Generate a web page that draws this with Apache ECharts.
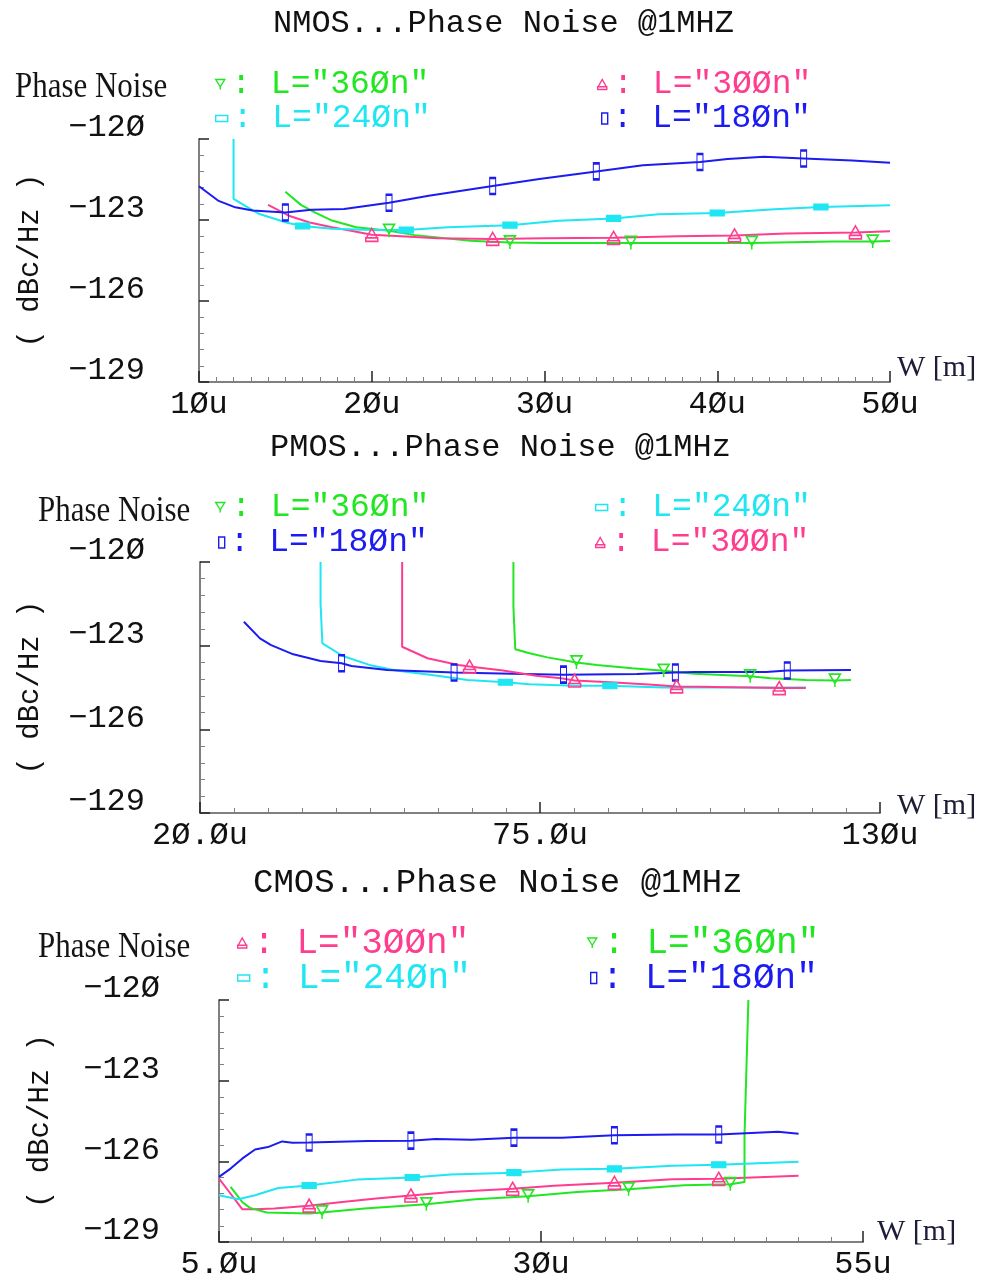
<!DOCTYPE html>
<html>
<head>
<meta charset="utf-8">
<title>Phase Noise @1MHz vs W</title>
<script src="https://cdn.jsdelivr.net/npm/echarts@6/dist/echarts.min.js"></script>
<style>
html, body { margin: 0; padding: 0; background: #fff; }
#chart { width: 981px; height: 1281px; }
</style>
</head>
<body>
<div id="chart"></div>
<script>
// Phase noise at 1 MHz offset (dBc/Hz) against device width W (µm).
// Each point is [W, PN] or [W, PN, 1]; a trailing 1 puts a marker on that point.

// ---- NMOS ----
const nmosL360 = [[15.0,-121.95],[15.9,-122.44],[16.7,-122.72],[17.7,-123.02],[19.1,-123.27],[21.0,-123.4,1],[22.5,-123.56],[25.7,-123.77],[28.0,-123.83,1],[30.0,-123.85],[35.0,-123.85,1],[42.0,-123.85,1],[46.7,-123.8],[49.0,-123.8,1],[50.0,-123.78]];
const nmosL300 = [[14.0,-122.44],[15.2,-122.84],[16.4,-123.09],[17.7,-123.27],[18.8,-123.4],[20.0,-123.55,1],[21.7,-123.6],[23.8,-123.68],[27.0,-123.7,1],[30.0,-123.68],[34.0,-123.66,1],[37.7,-123.6],[41.0,-123.57,1],[44.0,-123.5],[48.0,-123.46,1],[50.0,-123.42]];
const nmosL240 = [[12.0,-120.0],[12.0,-122.22],[12.7,-122.49],[13.5,-122.78],[15.1,-123.1],[16.0,-123.22,1],[17.7,-123.32],[20.1,-123.37],[22.0,-123.37,1],[24.4,-123.27],[28.0,-123.19,1],[30.8,-123.03],[34.0,-122.94,1],[36.6,-122.79],[40.0,-122.74,1],[43.3,-122.6],[46.0,-122.52,1],[50.0,-122.45]];
const nmosL180 = [[10.0,-121.75],[11.1,-122.28],[12.1,-122.53],[13.1,-122.65],[15.0,-122.72,1],[16.5,-122.62],[18.4,-122.59],[21.0,-122.36,1],[23.3,-122.1],[27.0,-121.74,1],[29.7,-121.48],[33.0,-121.2,1],[35.7,-120.97],[39.0,-120.85,1],[40.6,-120.74],[42.7,-120.66],[45.0,-120.72,1],[47.8,-120.8],[50.0,-120.88]];

// ---- PMOS ----
const pmosL360 = [[70.7,-120.0],[70.7,-121.61],[71.0,-123.13],[73.3,-123.27],[76.2,-123.42],[80.9,-123.6,1],[84.2,-123.69],[89.9,-123.81],[95.0,-123.9,1],[100.0,-124.01],[109.0,-124.1,1],[112.3,-124.17],[118.0,-124.23],[122.7,-124.25,1],[125.3,-124.23]];
const pmosL300 = [[52.7,-120.0],[52.7,-123.04],[56.8,-123.45],[61.8,-123.69],[63.6,-123.75,1],[69.0,-123.89],[74.4,-124.08],[78.4,-124.17],[80.6,-124.25,1],[87.1,-124.32],[93.2,-124.4],[97.1,-124.46,1],[100.7,-124.47],[113.7,-124.52,1],[118.0,-124.52]];
const pmosL240 = [[39.5,-120.0],[39.5,-121.49],[39.8,-122.92],[43.1,-123.37],[47.4,-123.69],[51.7,-123.89],[57.5,-124.05],[63.3,-124.23],[69.4,-124.31,1],[73.3,-124.38],[80.6,-124.44],[86.3,-124.44,1],[95.0,-124.5],[118.0,-124.5]];
const pmosL180 = [[27.1,-122.14],[29.7,-122.74],[31.5,-122.98],[35.1,-123.31],[39.5,-123.55],[42.9,-123.63,1],[44.5,-123.73],[50.3,-123.87],[61.1,-123.96,1],[70.5,-124.01],[78.8,-124.04,1],[90.7,-124.02],[96.9,-123.96,1],[100.0,-123.94],[111.6,-123.94],[115.0,-123.89,1],[125.3,-123.87]];

// ---- CMOS ----
const cmosL300 = [[5.0,-126.64],[5.8,-127.14],[6.8,-127.78],[7.8,-127.78],[9.3,-127.75],[12.0,-127.65,1],[14.2,-127.53],[17.2,-127.38],[19.9,-127.27,1],[23.0,-127.14],[27.8,-127.02,1],[31.0,-126.91],[35.7,-126.8,1],[40.2,-126.67],[43.8,-126.65,1],[50.0,-126.54]];
const cmosL360 = [[5.9,-126.95],[6.8,-127.51],[7.4,-127.73],[8.7,-127.9],[12.0,-127.94],[13.0,-127.9,1],[16.3,-127.75],[21.1,-127.6,1],[24.9,-127.41],[29.0,-127.3,1],[32.8,-127.14],[36.8,-127.04,1],[41.1,-126.89],[44.7,-126.85,1],[45.8,-126.77],[45.8,-125.04],[46.0,-121.7],[46.1,-120.0]];
const cmosL240 = [[5.0,-127.26],[6.5,-127.41],[7.8,-127.26],[9.6,-126.99],[12.0,-126.9,1],[15.7,-126.68],[20.0,-126.6,1],[23.0,-126.49],[27.9,-126.42,1],[31.6,-126.3],[35.7,-126.28,1],[40.2,-126.16],[43.8,-126.13,1],[50.0,-126.02]];
const cmosL180 = [[5.0,-126.58],[5.9,-126.27],[6.8,-125.9],[7.8,-125.56],[8.8,-125.47],[9.9,-125.26],[10.7,-125.31],[12.0,-125.3,1],[16.6,-125.24],[19.9,-125.23,1],[21.8,-125.17],[24.6,-125.2],[27.9,-125.12,1],[31.6,-125.12],[35.7,-125.03,1],[40.5,-125.0],[43.8,-125.0,1],[48.4,-124.9],[50.0,-124.97]];

// ---- axis ticks ----
const yTickValues = [-129, -126, -123, -120];
const yTickLabels = ['−129', '−126', '−123', '−12Ø'];
const nmosTickValues = [10, 20, 30, 40, 50];
const nmosTickLabels = ['1Øu', '2Øu', '3Øu', '4Øu', '5Øu'];
const pmosTickValues = [20, 75, 130];
const pmosTickLabels = ['2Ø.Øu', '75.Øu', '13Øu'];
const cmosTickValues = [5, 30, 55];
const cmosTickLabels = ['5.Øu', '3Øu', '55u'];

// ---- legend texts ----
const lengthLabels = { l360: 'L="36Øn"', l300: 'L="3ØØn"', l240: 'L="24Øn"', l180: 'L="18Øn"' };

const MONO = 'Liberation Mono';
const SERIF = 'Liberation Serif';
const COLORS = { l360: '#22e622', l300: '#ff3d8f', l240: '#1ee6f2', l180: '#1c1cf0' };
const CLEAR = 'rgba(0,0,0,0)';

// marker shapes per gate length
const MARKS = {
  l360: { symbol: 'path://M0,0L10,0L5,8ZM5,8L5,11', size: [11, 13], fill: CLEAR, legendFill: CLEAR },
  l300: { symbol: 'path://M5,0L9.5,8L0.5,8ZM0,8L10,8L10,11L0,11Z', size: [12, 13], fill: CLEAR, legendFill: CLEAR },
  l240: { symbol: 'rect', size: [13, 6], fill: COLORS.l240, legendFill: CLEAR },
  l180: { symbol: 'rect', size: [6, 16], fill: CLEAR, legendFill: CLEAR }
};
const LEGEND_ICON = {
  l360: { w: 12, h: 10 },
  l300: { w: 12, h: 10 },
  l240: { w: 12, h: 6 },
  l180: { w: 6, h: 11 }
};

// panel layout: grid box and per-panel text placement
const panels = [
  {
    key: 'NMOS', title: 'NMOS...Phase Noise @1MHZ', titleLeft: 268, titleTop: 3, titleSize: 32,
    grid: { left: 199, top: 139, width: 691, height: 243 },
    x: { min: 10, max: 50, interval: 10, minor: 10, values: nmosTickValues, labels: nmosTickLabels },
    yLabelMargin: 54, yNameGap: 154, phaseNoise: { x: 15, y: 88 }, wName: { x: 897, y: 368 },
    series: { l360: nmosL360, l300: nmosL300, l240: nmosL240, l180: nmosL180 },
    legendSize: 33,
    legend: { l360: [210, 80], l300: [592, 80], l240: [210, 114], l180: [596, 114] }
  },
  {
    key: 'PMOS', title: 'PMOS...Phase Noise @1MHz', titleLeft: 265, titleTop: 427, titleSize: 32,
    grid: { left: 200, top: 562, width: 680, height: 251 },
    x: { min: 20, max: 130, interval: 55, minor: 10, values: pmosTickValues, labels: pmosTickLabels },
    yLabelMargin: 55, yNameGap: 155, phaseNoise: { x: 38, y: 512 }, wName: { x: 897, y: 806 },
    series: { l360: pmosL360, l240: pmosL240, l180: pmosL180, l300: pmosL300 },
    legendSize: 33,
    legend: { l360: [210, 503], l240: [590, 503], l180: [213, 538], l300: [590, 538] }
  },
  {
    key: 'CMOS', title: 'CMOS...Phase Noise @1MHz', titleLeft: 248, titleTop: 861, titleSize: 34,
    grid: { left: 219, top: 1000, width: 644, height: 242 },
    x: { min: 5, max: 55, interval: 25, minor: 10, values: cmosTickValues, labels: cmosTickLabels },
    yLabelMargin: 59, yNameGap: 164, phaseNoise: { x: 38, y: 948 }, wName: { x: 877, y: 1232 },
    series: { l300: cmosL300, l360: cmosL360, l240: cmosL240, l180: cmosL180 },
    legendSize: 36,
    legend: { l300: [232, 938], l360: [582, 938], l240: [232, 973], l180: [585, 973] }
  }
];

function lookup(values, labels, v) {
  for (let i = 0; i < values.length; i++) {
    if (Math.abs(values[i] - v) < 1e-6) return labels[i];
  }
  return '';
}

const option = {
  backgroundColor: '#ffffff',
  animation: false,
  title: [], grid: [], xAxis: [], yAxis: [], series: [], legend: [], graphic: []
};

panels.forEach((p, i) => {
  option.title.push({
    text: p.title, left: p.titleLeft, top: p.titleTop,
    textStyle: { fontFamily: MONO, fontSize: p.titleSize, fontWeight: 'normal', color: '#111' }
  });
  option.grid.push(Object.assign({ containLabel: false, outerBoundsMode: 'none' }, p.grid));

  option.xAxis.push({
    gridIndex: i, type: 'value', min: p.x.min, max: p.x.max, interval: p.x.interval,
    axisLine: { show: true, onZero: false, lineStyle: { color: '#808080', width: 2 } },
    axisTick: { show: true, inside: true, length: 11, lineStyle: { color: '#222', width: 1.5 } },
    minorTick: { show: true, splitNumber: p.x.minor, length: 5, lineStyle: { color: '#808080', width: 1 } },
    splitLine: { show: false },
    axisLabel: {
      margin: 7, color: '#111', fontFamily: MONO, fontSize: 32,
      formatter: v => lookup(p.x.values, p.x.labels, v)
    }
  });

  option.yAxis.push({
    gridIndex: i, type: 'value', min: -129, max: -120, interval: 3,
    axisLine: { show: true, onZero: false, lineStyle: { color: '#808080', width: 2 } },
    axisTick: { show: true, inside: true, length: 10, lineStyle: { color: '#222', width: 1.5 } },
    minorTick: { show: true, splitNumber: 5, length: 5, lineStyle: { color: '#808080', width: 1 } },
    splitLine: { show: false },
    axisLabel: {
      margin: p.yLabelMargin, color: '#111', fontFamily: MONO, fontSize: 32,
      verticalAlign: 'bottom', lineHeight: 22,
      formatter: v => lookup(yTickValues, yTickLabels, v)
    },
    name: '( dBc/Hz )', nameLocation: 'middle', nameRotate: 90, nameGap: p.yNameGap,
    nameTextStyle: { fontFamily: MONO, fontSize: 29, color: '#111' }
  });

  Object.keys(p.series).forEach(k => {
    const name = p.key + ' ' + lengthLabels[k];
    const m = MARKS[k];
    option.series.push({
      type: 'line', name: name, xAxisIndex: i, yAxisIndex: i,
      data: p.series[k].map(pt => pt[2] ? { value: [pt[0], pt[1]] } : { value: [pt[0], pt[1]], symbol: 'none' }),
      symbol: m.symbol, symbolSize: m.size, symbolKeepAspect: false, showSymbol: true,
      lineStyle: { color: COLORS[k], width: 2 },
      itemStyle: { color: m.fill, borderColor: COLORS[k], borderWidth: 1.6 },
      emphasis: { disabled: true }, silent: true, clip: true
    });
    const ic = LEGEND_ICON[k];
    const pos = p.legend[k];
    option.legend.push({
      left: pos[0], top: pos[1] - Math.round(p.legendSize / 2), orient: 'horizontal',
      itemWidth: ic.w, itemHeight: ic.h, itemGap: 0, selectedMode: false,
      data: [{
        name: name, icon: m.symbol,
        itemStyle: { color: m.legendFill, borderColor: COLORS[k], borderWidth: 1.4 }
      }],
      formatter: ': ' + lengthLabels[k],
      textStyle: { color: COLORS[k], fontFamily: MONO, fontSize: p.legendSize }
    });
  });

  option.graphic.push({
    type: 'text', x: p.phaseNoise.x, y: p.phaseNoise.y, scaleX: 0.86,
    style: { text: 'Phase Noise', font: '36px "Liberation Serif"', fill: '#141414', align: 'left', verticalAlign: 'middle' }
  });
  // x-axis quantity and unit, at the right end of each axis
  option.graphic.push({
    type: 'text', x: p.wName.x, y: p.wName.y,
    style: { text: 'W [m]', font: '30px "Liberation Serif"', fill: '#1d1d38', align: 'left', verticalAlign: 'middle' }
  });
});

const chart = echarts.init(document.getElementById('chart'), null, { renderer: 'canvas' });
chart.setOption(option);
</script>
</body>
</html>
